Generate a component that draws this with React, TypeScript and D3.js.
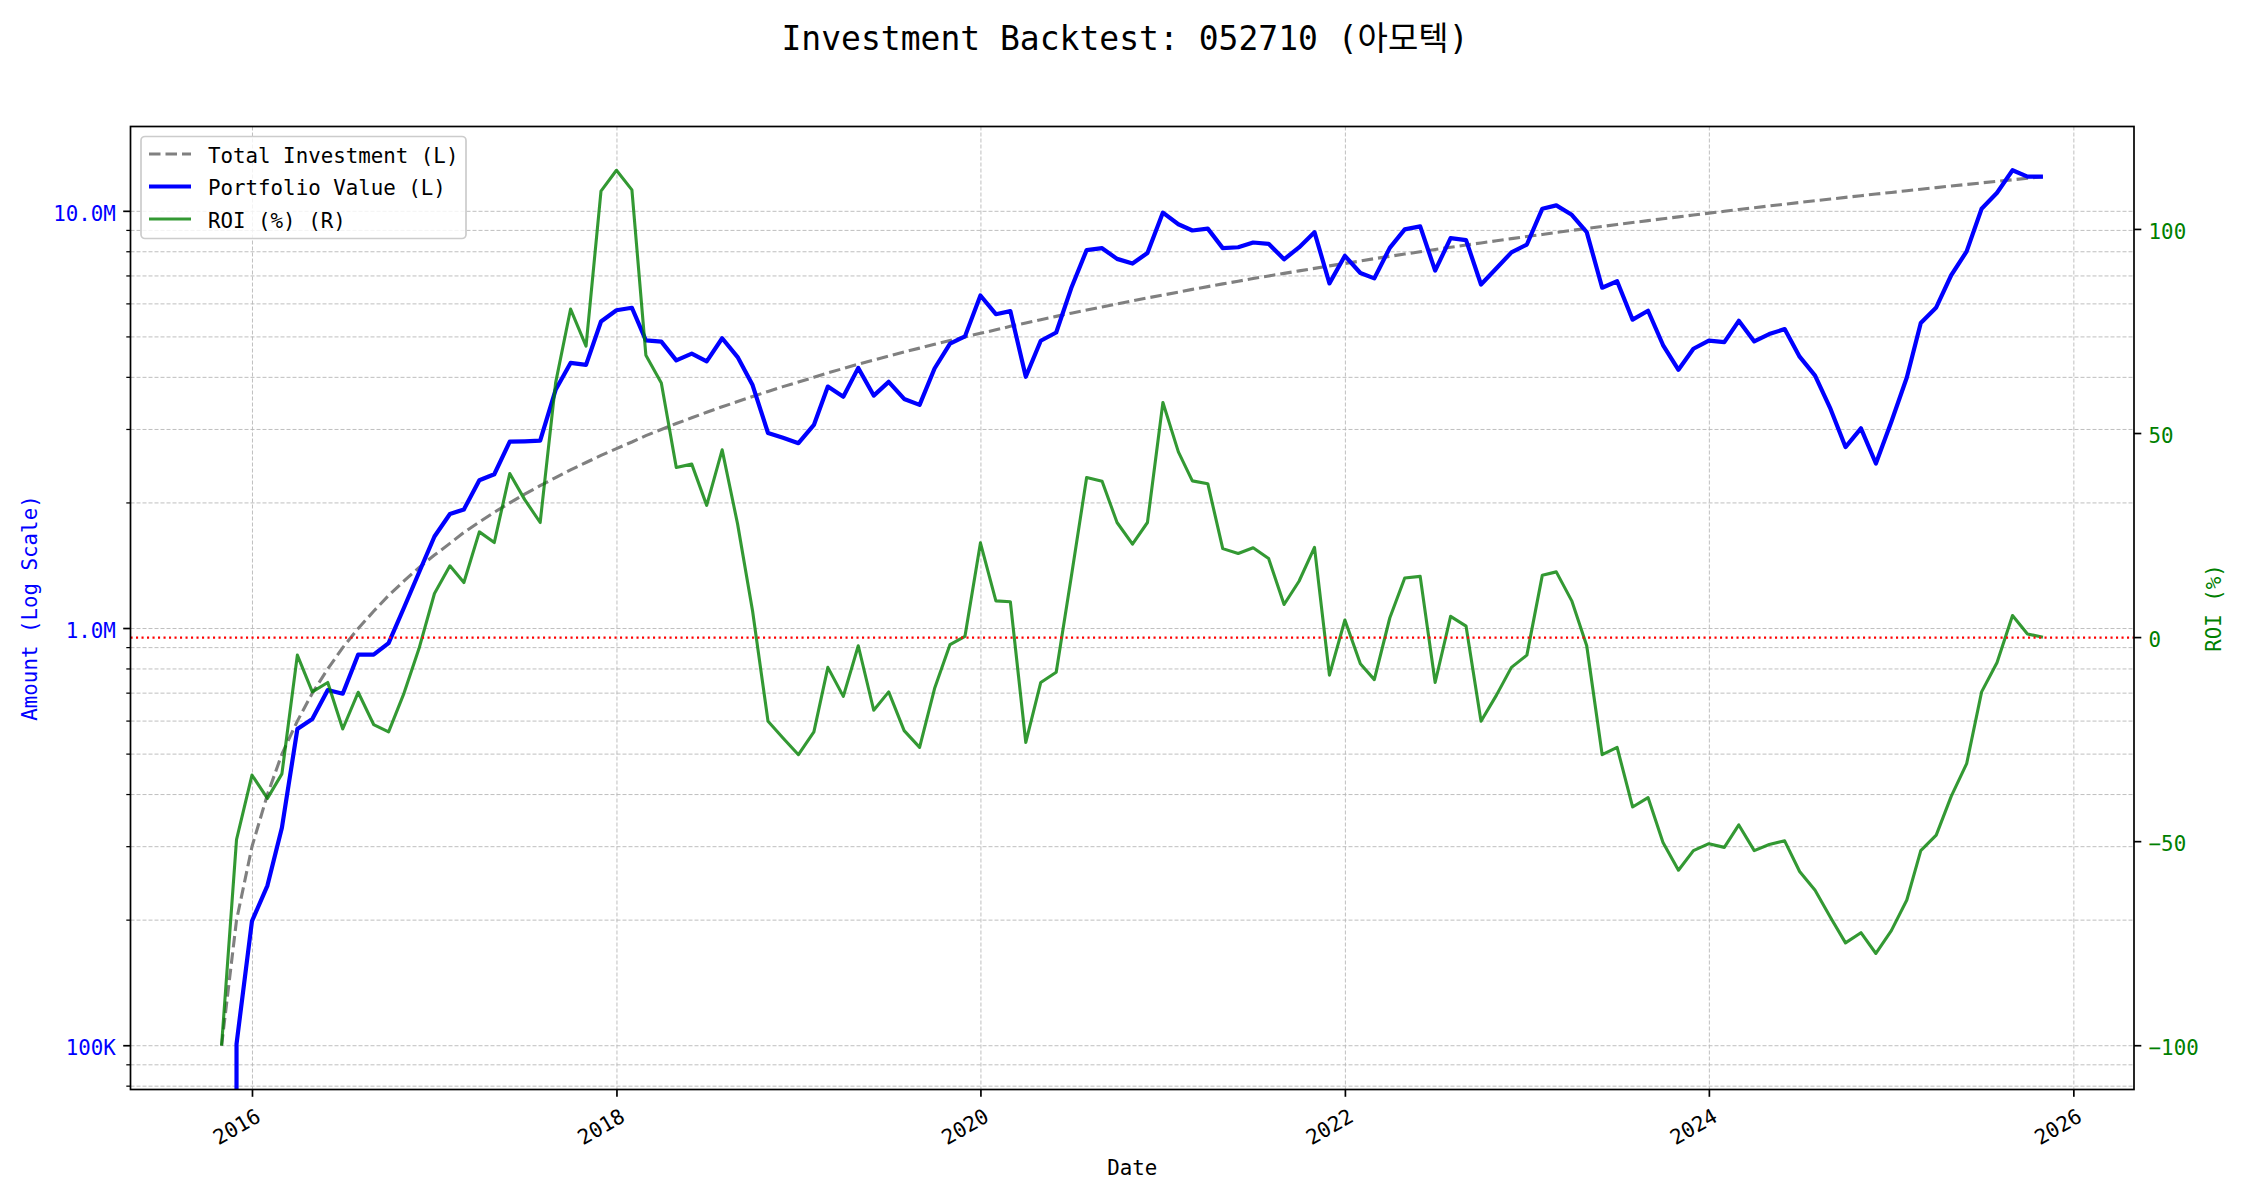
import React from 'react';
import * as d3 from 'd3';

// ---- Data ----
const MONTHS: string[] = [
  '2015-10', '2015-11', '2015-12',
  '2016-01', '2016-02', '2016-03', '2016-04', '2016-05', '2016-06', '2016-07', '2016-08', '2016-09', '2016-10', '2016-11', '2016-12',
  '2017-01', '2017-02', '2017-03', '2017-04', '2017-05', '2017-06', '2017-07', '2017-08', '2017-09', '2017-10', '2017-11', '2017-12',
  '2018-01', '2018-02', '2018-03', '2018-04', '2018-05', '2018-06', '2018-07', '2018-08', '2018-09', '2018-10', '2018-11', '2018-12',
  '2019-01', '2019-02', '2019-03', '2019-04', '2019-05', '2019-06', '2019-07', '2019-08', '2019-09', '2019-10', '2019-11', '2019-12',
  '2020-01', '2020-02', '2020-03', '2020-04', '2020-05', '2020-06', '2020-07', '2020-08', '2020-09', '2020-10', '2020-11', '2020-12',
  '2021-01', '2021-02', '2021-03', '2021-04', '2021-05', '2021-06', '2021-07', '2021-08', '2021-09', '2021-10', '2021-11', '2021-12',
  '2022-01', '2022-02', '2022-03', '2022-04', '2022-05', '2022-06', '2022-07', '2022-08', '2022-09', '2022-10', '2022-11', '2022-12',
  '2023-01', '2023-02', '2023-03', '2023-04', '2023-05', '2023-06', '2023-07', '2023-08', '2023-09', '2023-10', '2023-11', '2023-12',
  '2024-01', '2024-02', '2024-03', '2024-04', '2024-05', '2024-06', '2024-07', '2024-08', '2024-09', '2024-10', '2024-11', '2024-12',
  '2025-01', '2025-02', '2025-03', '2025-04', '2025-05', '2025-06', '2025-07', '2025-08', '2025-09', '2025-10',
];

// Total invested (millions, KRW)
const TOTAL_INVESTMENT_M: number[] = [
  0.1, 0.2, 0.3,
  0.4, 0.5, 0.6, 0.7, 0.8, 0.9, 1.0, 1.1, 1.2, 1.3, 1.4, 1.5,
  1.6, 1.7, 1.8, 1.9, 2.0, 2.1, 2.2, 2.3, 2.4, 2.5, 2.6, 2.7,
  2.8, 2.9, 3.0, 3.1, 3.2, 3.3, 3.4, 3.5, 3.6, 3.7, 3.8, 3.9,
  4.0, 4.1, 4.2, 4.3, 4.4, 4.5, 4.6, 4.7, 4.8, 4.9, 5.0, 5.1,
  5.2, 5.3, 5.4, 5.5, 5.6, 5.7, 5.8, 5.9, 6.0, 6.1, 6.2, 6.3,
  6.4, 6.5, 6.6, 6.7, 6.8, 6.9, 7.0, 7.1, 7.2, 7.3, 7.4, 7.5,
  7.6, 7.7, 7.8, 7.9, 8.0, 8.1, 8.2, 8.3, 8.4, 8.5, 8.6, 8.7,
  8.8, 8.9, 9.0, 9.1, 9.2, 9.3, 9.4, 9.5, 9.6, 9.7, 9.8, 9.9,
  10.0, 10.1, 10.2, 10.3, 10.4, 10.5, 10.6, 10.7, 10.8, 10.9, 11.0, 11.1,
  11.2, 11.3, 11.4, 11.5, 11.6, 11.7, 11.8, 11.9, 12.0, 12.1,
];

// Portfolio value (millions, KRW)
const PORTFOLIO_VALUE_M: number[] = [
  0, 0.101, 0.199,
  0.242, 0.333, 0.574, 0.607, 0.712, 0.698, 0.866, 0.866, 0.923, 1.123, 1.362, 1.662,
  1.882, 1.930, 2.266, 2.343, 2.804, 2.810, 2.820, 3.735, 4.332, 4.285, 5.444, 5.792,
  5.872, 4.907, 4.872, 4.393, 4.560, 4.369, 4.964, 4.473, 3.834, 2.942, 2.865, 2.781,
  3.076, 3.801, 3.595, 4.214, 3.617, 3.902, 3.551, 3.436, 4.200, 4.817, 5.015, 6.283,
  5.668, 5.766, 4.012, 4.895, 5.124, 6.538, 8.074, 8.160, 7.692, 7.497, 7.948, 9.929,
  9.312, 8.996, 9.088, 8.161, 8.201, 8.418, 8.358, 7.675, 8.194, 8.913, 6.719, 7.823,
  7.114, 6.907, 8.174, 9.053, 9.200, 7.209, 8.626, 8.532, 6.678, 7.302, 7.972, 8.326,
  10.146, 10.333, 9.810, 8.918, 6.560, 6.798, 5.499, 5.776, 4.781, 4.171, 4.684, 4.901,
  4.860, 5.464, 4.876, 5.078, 5.221, 4.484, 4.039, 3.360, 2.722, 3.019, 2.486, 3.130,
  3.998, 5.401, 5.882, 7.027, 8.016, 10.144, 11.080, 12.543, 12.108, 12.112,
];

// ROI (%)
const ROI_PCT: number[] = [
  -100, -49.5, -33.7,
  -39.4, -33.4, -4.3, -13.3, -11.0, -22.4, -13.4, -21.3, -23.1, -13.6, -2.7, 10.8,
  17.6, 13.5, 25.9, 23.3, 40.2, 33.8, 28.2, 62.4, 80.5, 71.4, 109.4, 114.5,
  109.7, 69.2, 62.4, 41.7, 42.5, 32.4, 46.0, 27.8, 6.5, -20.5, -24.6, -28.7,
  -23.1, -7.3, -14.4, -2.0, -17.8, -13.3, -22.8, -26.9, -12.5, -1.7, 0.3, 23.2,
  9.0, 8.8, -25.7, -11.0, -8.5, 14.7, 39.2, 38.3, 28.2, 22.9, 28.2, 57.6,
  45.5, 38.4, 37.7, 21.8, 20.6, 22.0, 19.4, 8.1, 13.8, 22.1, -9.2, 4.3,
  -6.4, -10.3, 4.8, 14.6, 15.0, -11.0, 5.2, 2.8, -20.5, -14.1, -7.3, -4.3,
  15.3, 16.1, 9.0, -2.0, -28.7, -26.9, -41.5, -39.2, -50.2, -57.0, -52.2, -50.5,
  -51.4, -45.9, -52.2, -50.7, -49.8, -57.3, -61.9, -68.6, -74.8, -72.3, -77.4, -71.8,
  -64.3, -52.2, -48.4, -38.9, -30.9, -13.3, -6.1, 5.4, 0.9, 0.1,
];

const X_TICK_YEARS: number[] = [2016, 2018, 2020, 2022, 2024, 2026];
const LEFT_MAJOR_TICKS: number[] = [1e5, 1e6, 1e7];
const LEFT_MAJOR_LABELS: string[] = ['100K', '1.0M', '10.0M'];
const RIGHT_TICKS: number[] = [-100, -50, 0, 50, 100];
const RIGHT_LABELS: string[] = ['\u2212100', '\u221250', '0', '50', '100'];
const LEGEND_LABELS: string[] = ['Total Investment (L)', 'Portfolio Value (L)', 'ROI (%) (R)'];
const TITLE = 'Investment Backtest: 052710 (아모텍)';

const FONT = "'DejaVu Sans Mono', 'Noto Sans CJK KR', monospace";

export default function App() {
  const W = 2250;
  const H = 1200;
  const L = 130.5;
  const R = 2134;
  const T = 126.5;
  const B = 1089.5;

  const dates = MONTHS.map((s) => {
    const [yy, mm] = s.split('-').map(Number);
    return new Date(yy, mm, 0);
  });
  const t0 = +dates[0];
  const t1 = +dates[dates.length - 1];
  const pad = (t1 - t0) * 0.05;
  const x = d3.scaleTime().domain([new Date(t0 - pad), new Date(t1 + pad)]).range([L, R]);

  const invest = TOTAL_INVESTMENT_M.map((v) => v * 1e6);
  const port = PORTFOLIO_VALUE_M.map((v) => v * 1e6);
  const positives = [...invest, ...port].filter((v) => v > 0);
  const lmin = Math.log10(d3.min(positives) as number);
  const lmax = Math.log10(d3.max(positives) as number);
  const lp = (lmax - lmin) * 0.05;
  const yL = d3.scaleLog().domain([Math.pow(10, lmin - lp), Math.pow(10, lmax + lp)]).range([B, T]);

  const rmin = d3.min(ROI_PCT) as number;
  const rmax = d3.max(ROI_PCT) as number;
  const rp = (rmax - rmin) * 0.05;
  const yR = d3.scaleLinear().domain([rmin - rp, rmax + rp]).range([B, T]);

  const [dLo, dHi] = yL.domain();
  const minorTicks: number[] = [];
  for (let k = 3; k <= 8; k++) {
    for (let m = 2; m <= 9; m++) {
      const v = m * Math.pow(10, k);
      if (v >= dLo && v <= dHi) minorTicks.push(v);
    }
  }
  const majorTicks = LEFT_MAJOR_TICKS.filter((v) => v >= dLo && v <= dHi);

  const lineL = d3
    .line<number>()
    .x((_, i) => x(dates[i]))
    .y((v) => yL(v > 0 ? v : 1e-300));
  const lineR = d3
    .line<number>()
    .x((_, i) => x(dates[i]))
    .y((v) => yR(v));

  const gridColor = '#b8b8b8';
  const gridDash = '4 2';
  const tickLen = 7.3;
  const tickPad = 7.3;
  const fs = 20.8;
  const labelShift = 2.5;

  const blue = '#0000ff';
  const green = 'green';

  return (
    <svg
      width={W}
      height={H}
      viewBox={`0 0 ${W} ${H}`}
      style={{ position: 'absolute', left: 0, top: 0, background: '#fff' }}
      fontFamily={FONT}
    >
      <defs>
        <clipPath id="plotClip">
          <rect x={L} y={T} width={R - L} height={B - T} />
        </clipPath>
      </defs>
      <rect x={0} y={0} width={W} height={H} fill="#fff" />

      {/* Title */}
      <text x={W / 2} y={50} textAnchor="middle" fontSize={33} fill="#000">
        {TITLE}
      </text>

      {/* Grid */}
      <g clipPath="url(#plotClip)">
        {[...majorTicks, ...minorTicks].map((v, i) => (
          <line
            key={'hg' + i}
            x1={L}
            x2={R}
            y1={yL(v)}
            y2={yL(v)}
            stroke={gridColor}
            strokeWidth={0.9}
            strokeDasharray={gridDash}
          />
        ))}
        {X_TICK_YEARS.map((yr) => {
          const xx = x(new Date(yr, 0, 1));
          return (
            <line
              key={'vg' + yr}
              x1={xx}
              x2={xx}
              y1={T}
              y2={B}
              stroke={gridColor}
              strokeWidth={0.9}
              strokeDasharray={gridDash}
            />
          );
        })}
      </g>

      {/* Left-axis lines */}
      <g clipPath="url(#plotClip)" fill="none">
        <path d={lineL(invest) || ''} stroke="#808080" strokeWidth={3.1} strokeDasharray="11.5 5" />
        <path d={lineL(port) || ''} stroke={blue} strokeWidth={4.2} strokeLinejoin="round" />
      </g>

      {/* Right-axis lines */}
      <g clipPath="url(#plotClip)" fill="none">
        <path d={lineR(ROI_PCT) || ''} stroke={green} strokeOpacity={0.8} strokeWidth={3.1} strokeLinejoin="round" />
        <line x1={L} x2={R} y1={yR(0)} y2={yR(0)} stroke="red" strokeWidth={2.1} strokeDasharray="2.1 3.4" />
      </g>

      {/* Spines */}
      <rect x={L} y={T} width={R - L} height={B - T} fill="none" stroke="#000" strokeWidth={1.7} />

      {/* Left axis ticks */}
      {majorTicks.map((v, i) => (
        <g key={'lt' + i}>
          <line x1={L - tickLen} x2={L} y1={yL(v)} y2={yL(v)} stroke="#000" strokeWidth={1.7} />
          <text
            x={L - tickLen - tickPad}
            y={yL(v) + labelShift}
            textAnchor="end"
            dominantBaseline="central"
            fontSize={fs}
            fill={blue}
          >
            {LEFT_MAJOR_LABELS[LEFT_MAJOR_TICKS.indexOf(v)]}
          </text>
        </g>
      ))}
      {minorTicks.map((v, i) => (
        <line key={'lmt' + i} x1={L - 4.2} x2={L} y1={yL(v)} y2={yL(v)} stroke="#000" strokeWidth={1.25} />
      ))}

      {/* Right axis ticks */}
      {RIGHT_TICKS.map((v, i) => (
        <g key={'rt' + i}>
          <line x1={R} x2={R + tickLen} y1={yR(v)} y2={yR(v)} stroke="#000" strokeWidth={1.7} />
          <text
            x={R + tickLen + tickPad}
            y={yR(v) + labelShift}
            textAnchor="start"
            dominantBaseline="central"
            fontSize={fs}
            fill={green}
          >
            {RIGHT_LABELS[i]}
          </text>
        </g>
      ))}

      {/* X axis ticks */}
      {X_TICK_YEARS.map((yr) => {
        const xx = x(new Date(yr, 0, 1));
        return (
          <g key={'xt' + yr}>
            <line x1={xx} x2={xx} y1={B} y2={B + tickLen} stroke="#000" strokeWidth={1.7} />
            <text
              transform={`translate(${xx},${B + tickLen + tickPad}) rotate(-30)`}
              textAnchor="end"
              dominantBaseline="text-before-edge"
              fontSize={fs}
              fill="#000"
            >
              {String(yr)}
            </text>
          </g>
        );
      })}

      {/* Axis labels */}
      <text x={(L + R) / 2} y={1175} textAnchor="middle" fontSize={fs} fill="#000">
        Date
      </text>
      <text
        transform={`translate(37,${(T + B) / 2}) rotate(-90)`}
        textAnchor="middle"
        fontSize={fs}
        fill={blue}
      >
        Amount (Log Scale)
      </text>
      <text
        transform={`translate(2221,${(T + B) / 2}) rotate(-90)`}
        textAnchor="middle"
        fontSize={fs}
        fill={green}
      >
        ROI (%)
      </text>

      {/* Legend */}
      <g>
        <rect
          x={141}
          y={136.5}
          width={325}
          height={102}
          rx={4}
          ry={4}
          fill="#fff"
          fillOpacity={0.8}
          stroke="#cccccc"
          strokeWidth={1.7}
        />
        {LEGEND_LABELS.map((lab, i) => {
          const cy = 154 + i * 32.5;
          return (
            <g key={'lg' + i}>
              {i === 0 && (
                <line x1={149} x2={191} y1={cy} y2={cy} stroke="#808080" strokeWidth={3.1} strokeDasharray="11.5 5" />
              )}
              {i === 1 && <line x1={149} x2={191} y1={cy} y2={cy} stroke={blue} strokeWidth={4.2} />}
              {i === 2 && (
                <line x1={149} x2={191} y1={cy} y2={cy} stroke={green} strokeOpacity={0.8} strokeWidth={3.1} />
              )}
              <text x={208} y={cy + 1.5} dominantBaseline="central" fontSize={fs} fill="#000">
                {lab}
              </text>
            </g>
          );
        })}
      </g>
    </svg>
  );
}
